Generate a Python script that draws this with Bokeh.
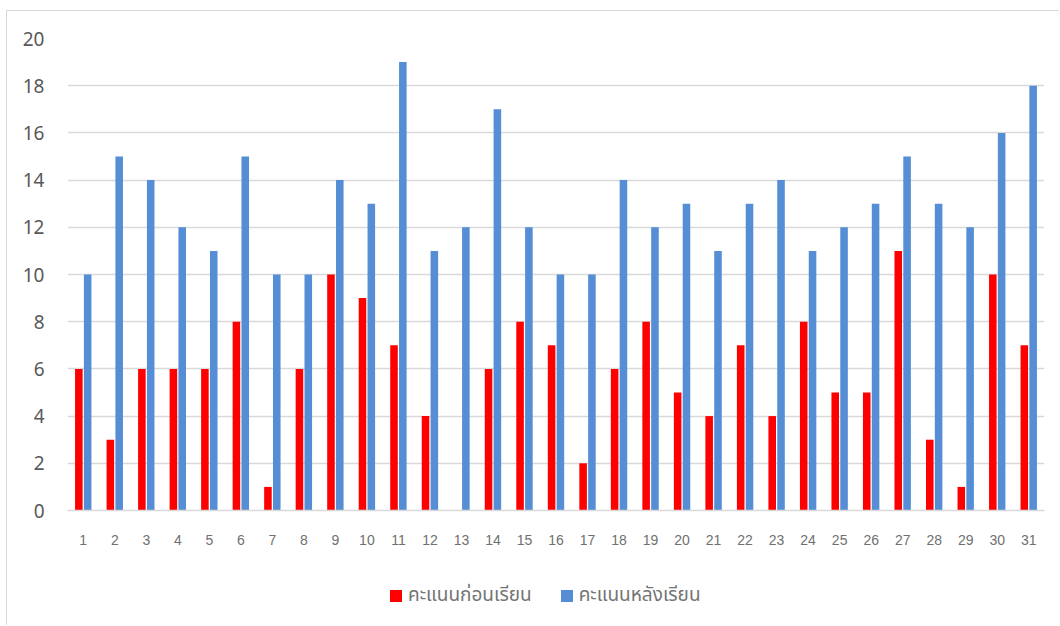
from bokeh.plotting import figure
from bokeh.layouts import column
from bokeh.models import ColumnDataSource, FactorRange, Range1d, Legend, LegendItem, FixedTicker
from bokeh.transform import dodge
from bokeh.embed import file_html
from bokeh.resources import INLINE

students = [str(i) for i in range(1, 32)]
before = [6, 3, 6, 6, 6, 8, 1, 6, 10, 9, 7, 4, 0, 6, 8, 7, 2, 6, 8, 5, 4, 7, 4, 8, 5, 5, 11, 3, 1, 10, 7]
after = [10, 15, 14, 12, 11, 15, 10, 10, 14, 13, 19, 11, 12, 17, 12, 10, 10, 14, 12, 13, 11, 13, 14, 11, 12, 13, 15, 13, 12, 16, 18]
series_names = ["คะแนนก่อนเรียน", "คะแนนหลังเรียน"]
series_colors = ["#FF0000", "#558ED5"]
y_ticks = [0, 2, 4, 6, 8, 10, 12, 14, 16, 18, 20]

source = ColumnDataSource(dict(x=students, before=before, after=after))

p = figure(width=1052, height=560, x_range=FactorRange(*students), y_range=Range1d(0, 20),
           output_backend="svg", toolbar_location=None,
           min_border_left=60, min_border_right=15, min_border_top=27, min_border_bottom=61)
p.outline_line_color = None
p.background_fill_color = "white"
p.border_fill_color = "white"

p.vbar(x=dodge("x", -0.14, range=p.x_range), top="before", width=0.24, source=source,
       fill_color=series_colors[0], line_color=None)
p.vbar(x=dodge("x", 0.14, range=p.x_range), top="after", width=0.24, source=source,
       fill_color=series_colors[1], line_color=None)

p.xgrid.grid_line_color = None
p.ygrid.grid_line_color = "#d9d9d9"
p.ygrid.grid_line_width = 1.5
p.yaxis.ticker = FixedTicker(ticks=y_ticks)
p.yaxis.axis_line_color = None
p.yaxis.major_tick_line_color = None
p.yaxis.minor_tick_line_color = None
p.yaxis.major_label_text_font = "Noto Sans"
p.yaxis.major_label_text_font_size = "19px"
p.yaxis.major_label_text_color = "#595959"
p.yaxis.major_label_standoff = 17

p.xaxis.axis_line_color = "#d9d9d9"
p.xaxis.axis_line_width = 1.5
p.xaxis.major_tick_line_color = None
p.xaxis.minor_tick_line_color = None
p.xaxis.major_label_text_font = "Liberation Sans"
p.xaxis.major_label_text_font_size = "14px"
p.xaxis.major_label_text_color = "#707070"
p.xaxis.major_label_standoff = 18

# legend strip
lg = figure(width=1052, height=54, x_range=Range1d(0, 1), y_range=Range1d(0, 1),
            output_backend="svg", toolbar_location=None, x_axis_type=None, y_axis_type=None,
            min_border=0)
lg.outline_line_color = None
lg.grid.visible = False
lr1 = lg.vbar(x=[-5], top=[-5], width=0.1, fill_color=series_colors[0], line_color=None)
lr2 = lg.vbar(x=[-5], top=[-5], width=0.1, fill_color=series_colors[1], line_color=None)
legend = Legend(items=[LegendItem(label=series_names[0], renderers=[lr1]),
                       LegendItem(label=series_names[1], renderers=[lr2])],
                location=(321, 15), orientation="horizontal",
                label_text_font="Noto Sans Thai, Noto Sans, sans-serif", label_text_font_size="19px",
                label_text_color="#757575", glyph_width=15, glyph_height=15, label_standoff=5,
                spacing=27, padding=0, margin=0, border_line_color=None, background_fill_alpha=0)
lg.add_layout(legend, "center")

layout = column(p, lg, spacing=0)
layout.margin = (10, 0, 0, 6)
layout.styles = {"border-left": "1.5px solid #d9d9d9", "border-top": "1.5px solid #d9d9d9"}

open("out.html", "w").write(file_html(layout, INLINE))
